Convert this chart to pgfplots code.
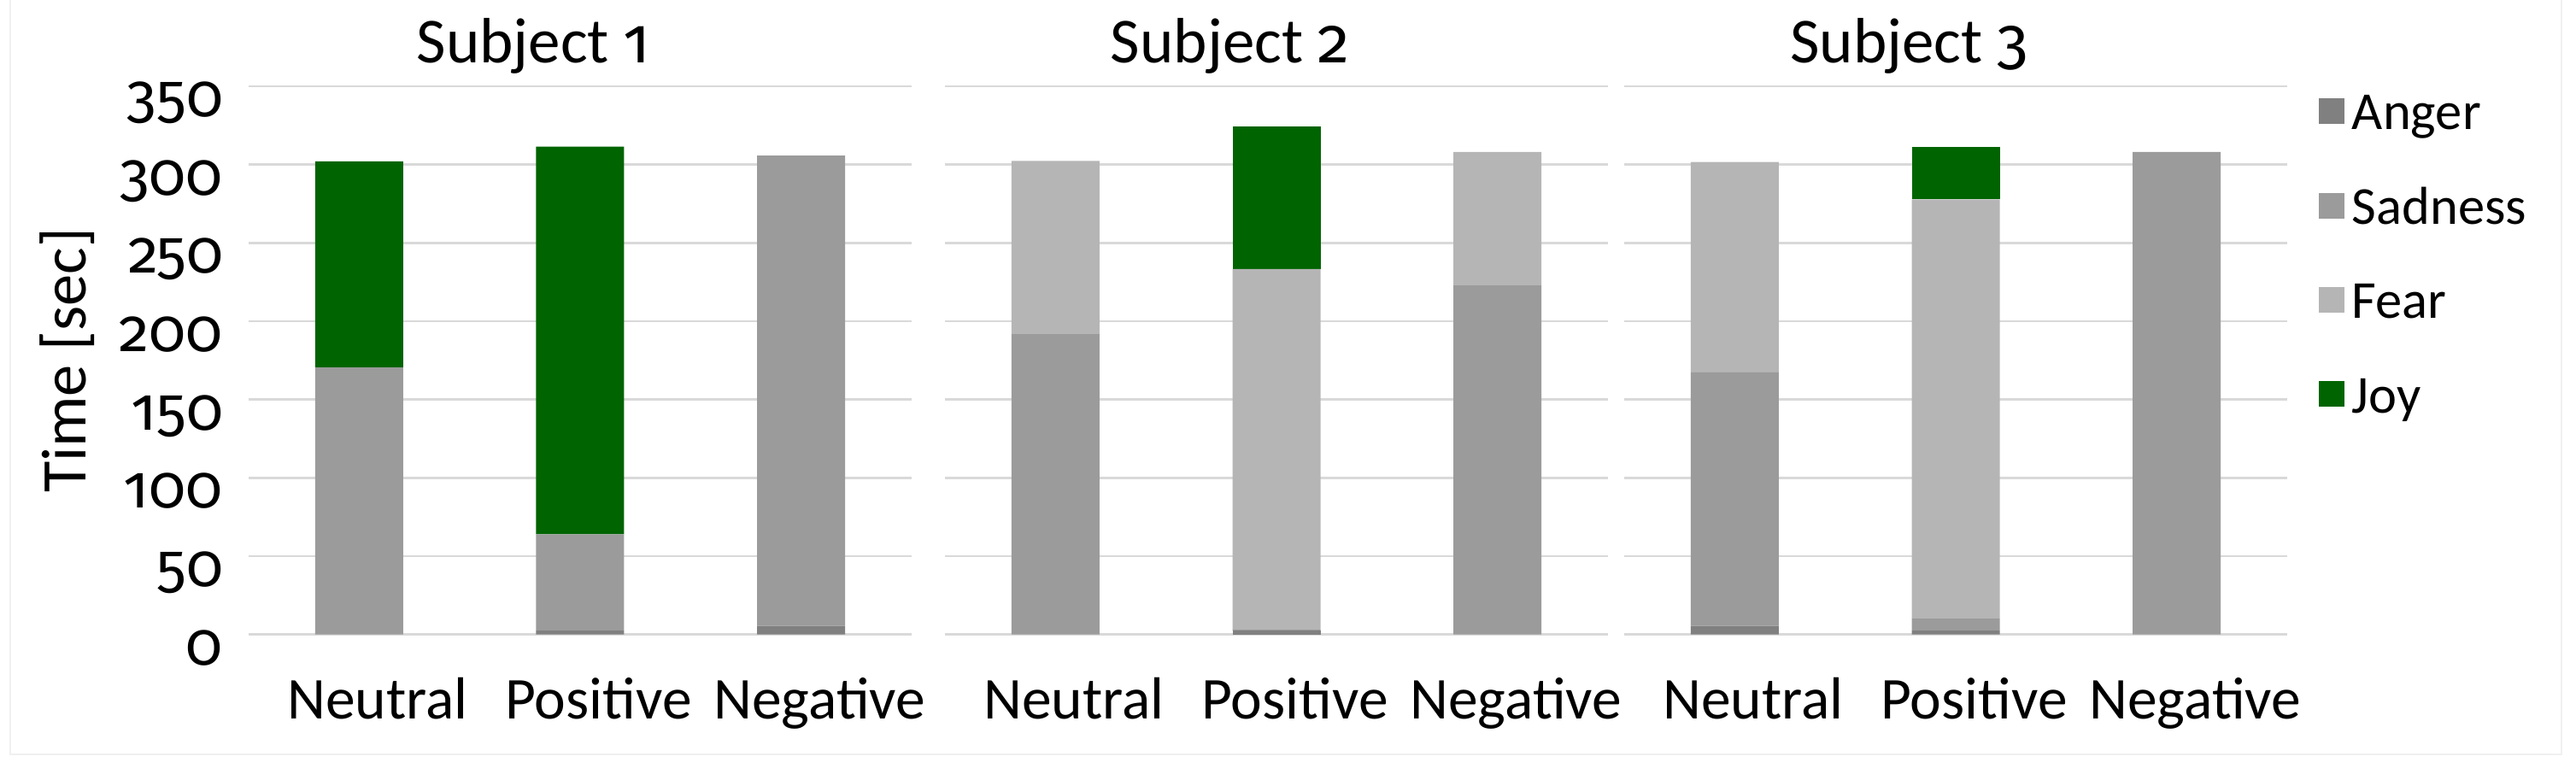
\documentclass[border=0pt]{standalone}
\usepackage{pgfplots}
\pgfplotsset{compat=1.18}
\usepackage{pgfplotstable}
\usepackage{fontspec}
\setmainfont{Carlito}
\newfontfamily\numfont{Fira Sans}[Numbers=OldStyle]
\definecolor{anger}{RGB}{128,128,128}
\definecolor{sadness}{RGB}{155,155,155}
\definecolor{fear}{RGB}{181,181,181}
\definecolor{joy}{RGB}{0,100,0}
\definecolor{gridc}{RGB}{217,217,217}

% columns: category (0 Neutral, 1 Positive, 2 Negative), seconds per emotion
\pgfplotstableread{
x anger sadness fear joy
0 0   170.5 0     131.5
1 2.5 61.5  0     247.5
2 5.5 300.3 0     0
}\subjA
\pgfplotstableread{
x anger sadness fear joy
0 0   192.2 110.1 0
1 2.5 0.5   230.3 91.0
2 0   223.2 84.8  0
}\subjB
\pgfplotstableread{
x anger sadness fear joy
0 5.5 161.9 134.2 0
1 2.5 8.0   267.3 33.4
2 0   308.0 0     0
}\subjC

\pgfplotsset{
 panel/.style={
  scale only axis, width=155.2pt, height=128.34pt,
  anchor=south west,
  ymin=0, ymax=350, ytick={0,50,...,350},
  xmin=-0.5, xmax=2.5, xtick={0,1,2},
  xticklabels={Neutral,Positive,Negative},
  ybar stacked, bar width=20.6pt,
  ymajorgrids, grid style={gridc, line width=0.5pt},
  axis line style={draw=none},
  major tick length=0pt,
  xticklabel style={font=\fontsize{13.9}{16}\selectfont, anchor=base, inner sep=0pt, yshift=-19.86pt, xshift=4.3pt},
  yticklabel style={font=\numfont\fontsize{14.2}{16}\selectfont, anchor=base east, inner sep=0pt, xshift=-5.8pt, yshift=-7.1pt},
  /pgf/number format/assume math mode=true,
  title style={font=\fontsize{15}{18}\selectfont, at={(axis description cs:0.43,1)}, anchor=base, inner sep=0pt, yshift=-0.6pt},
  clip=false,
 },
 sq/.style={legend image code/.code={\fill[#1] (0pt,4.8pt) rectangle (6pt,10.8pt);}},
}

\begin{document}
\begin{tikzpicture}
\path[use as bounding box] (0,0) rectangle (603pt,-181.2pt);
\draw[gray!12, line width=0.4pt] (2.4pt,0) -- (2.4pt,-176.6pt) -- (599.6pt,-176.6pt) -- (599.6pt,0);

\begin{axis}[panel, at={(58.2pt,-148.54pt)}, title={Subject {\numfont 1}},
  ylabel={Time [sec]},
  ylabel style={font=\fontsize{14.9}{17}\selectfont, at={(axis description cs:-0.2461,0.5)}, anchor=base, inner sep=0pt}]
\addplot[fill=anger, draw=none] table[x=x,y=anger]{\subjA};
\addplot[fill=sadness, draw=none] table[x=x,y=sadness]{\subjA};
\addplot[fill=fear, draw=none] table[x=x,y=fear]{\subjA};
\addplot[fill=joy, draw=none] table[x=x,y=joy]{\subjA};
\end{axis}

\begin{axis}[panel, at={(221.2pt,-148.54pt)}, title={Subject {\numfont 2}}, yticklabels={}]
\addplot[fill=anger, draw=none] table[x=x,y=anger]{\subjB};
\addplot[fill=sadness, draw=none] table[x=x,y=sadness]{\subjB};
\addplot[fill=fear, draw=none] table[x=x,y=fear]{\subjB};
\addplot[fill=joy, draw=none] table[x=x,y=joy]{\subjB};
\end{axis}

\begin{axis}[panel, at={(380.2pt,-148.54pt)}, title={Subject {\numfont 3}}, yticklabels={},
  legend cell align=left,
  legend style={at={(axis description cs:1,1)}, anchor=north west, xshift=7.2pt, yshift=-2.4pt,
    draw=none, fill=none, inner sep=0pt, font=\fontsize{12.5}{14}\selectfont,
    row sep=0pt, column sep=1.8pt,
    nodes={inner sep=0pt, text height=7.6pt, text depth=14.47pt}}]
\addplot[fill=anger, draw=none, sq] table[x=x,y=anger]{\subjC};
\addplot[fill=sadness, draw=none, sq] table[x=x,y=sadness]{\subjC};
\addplot[fill=fear, draw=none, sq] table[x=x,y=fear]{\subjC};
\addplot[fill=joy, draw=none, sq] table[x=x,y=joy]{\subjC};
\legend{Anger,Sadness,Fear,Joy}
\end{axis}
\end{tikzpicture}
\end{document}
